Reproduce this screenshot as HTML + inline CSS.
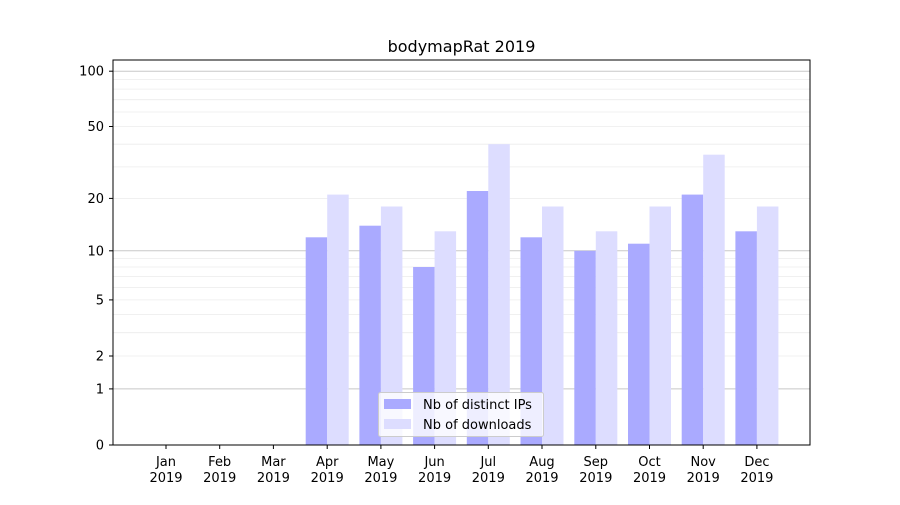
<!DOCTYPE html>
<html><head><meta charset="utf-8"><style>body{margin:0;background:#fff}</style></head><body>
<svg width="900" height="500" xmlns="http://www.w3.org/2000/svg" font-family="DejaVu Sans, Liberation Sans, sans-serif" font-size="13">
<rect width="900" height="500" fill="#fff"/>
<g stroke="#ececec" stroke-width="0.8">
<line x1="113" x2="810" y1="356" y2="356"/><line x1="113" x2="810" y1="332.7" y2="332.7"/><line x1="113" x2="810" y1="314.6" y2="314.6"/><line x1="113" x2="810" y1="299.9" y2="299.9"/><line x1="113" x2="810" y1="287.4" y2="287.4"/><line x1="113" x2="810" y1="276.6" y2="276.6"/><line x1="113" x2="810" y1="267" y2="267"/><line x1="113" x2="810" y1="258.5" y2="258.5"/>
<line x1="113" x2="810" y1="198.4" y2="198.4"/><line x1="113" x2="810" y1="166.9" y2="166.9"/><line x1="113" x2="810" y1="144.2" y2="144.2"/><line x1="113" x2="810" y1="126.5" y2="126.5"/><line x1="113" x2="810" y1="112" y2="112"/><line x1="113" x2="810" y1="99.7" y2="99.7"/><line x1="113" x2="810" y1="89.1" y2="89.1"/><line x1="113" x2="810" y1="79.6" y2="79.6"/>
</g>
<g stroke="#c8c8c8" stroke-width="1">
<line x1="113" x2="810" y1="388.9" y2="388.9"/><line x1="113" x2="810" y1="250.8" y2="250.8"/><line x1="113" x2="810" y1="71.2" y2="71.2"/>
</g>
<g fill="#aaaaff">
<rect x="305.7" y="237.3" width="21.5" height="207.7"/>
<rect x="359.4" y="225.7" width="21.5" height="219.3"/>
<rect x="413.1" y="267" width="21.5" height="178"/>
<rect x="466.8" y="191" width="21.5" height="254"/>
<rect x="520.5" y="237.3" width="21.5" height="207.7"/>
<rect x="574.3" y="250.8" width="21.5" height="194.2"/>
<rect x="628" y="243.7" width="21.5" height="201.3"/>
<rect x="681.7" y="194.6" width="21.5" height="250.4"/>
<rect x="735.4" y="231.3" width="21.5" height="213.7"/>
</g>
<g fill="#ddddff">
<rect x="327.2" y="194.6" width="21.5" height="250.4"/>
<rect x="380.9" y="206.5" width="21.5" height="238.5"/>
<rect x="434.6" y="231.3" width="21.5" height="213.7"/>
<rect x="488.3" y="144.2" width="21.5" height="300.8"/>
<rect x="542" y="206.5" width="21.5" height="238.5"/>
<rect x="595.8" y="231.3" width="21.5" height="213.7"/>
<rect x="649.5" y="206.5" width="21.5" height="238.5"/>
<rect x="703.2" y="154.7" width="21.5" height="290.3"/>
<rect x="756.9" y="206.5" width="21.5" height="238.5"/>
</g>
<rect x="113" y="60" width="697" height="385" fill="none" stroke="#000" stroke-width="1"/>
<g stroke="#000">
<line x1="166" x2="166" y1="445" y2="449"/><line x1="219.7" x2="219.7" y1="445" y2="449"/><line x1="273.4" x2="273.4" y1="445" y2="449"/><line x1="327.2" x2="327.2" y1="445" y2="449"/><line x1="380.9" x2="380.9" y1="445" y2="449"/><line x1="434.6" x2="434.6" y1="445" y2="449"/><line x1="488.3" x2="488.3" y1="445" y2="449"/><line x1="542" x2="542" y1="445" y2="449"/><line x1="595.8" x2="595.8" y1="445" y2="449"/><line x1="649.5" x2="649.5" y1="445" y2="449"/><line x1="703.2" x2="703.2" y1="445" y2="449"/><line x1="756.9" x2="756.9" y1="445" y2="449"/>
<line x1="109" x2="113" y1="445" y2="445"/><line x1="109" x2="113" y1="388.9" y2="388.9"/><line x1="109" x2="113" y1="356" y2="356"/><line x1="109" x2="113" y1="299.9" y2="299.9"/><line x1="109" x2="113" y1="250.8" y2="250.8"/><line x1="109" x2="113" y1="198.4" y2="198.4"/><line x1="109" x2="113" y1="126.5" y2="126.5"/><line x1="109" x2="113" y1="71.2" y2="71.2"/>
</g>
<g text-anchor="end">
<text x="104" y="449.5">0</text><text x="104" y="393.4">1</text><text x="104" y="360.5">2</text><text x="104" y="304.4">5</text><text x="104" y="255.3">10</text><text x="104" y="202.9">20</text><text x="104" y="131">50</text><text x="104" y="75.7">100</text>
</g>
<g text-anchor="middle">
<text x="166" y="466">Jan</text><text x="166" y="482">2019</text>
<text x="219.7" y="466">Feb</text><text x="219.7" y="482">2019</text>
<text x="273.4" y="466">Mar</text><text x="273.4" y="482">2019</text>
<text x="327.2" y="466">Apr</text><text x="327.2" y="482">2019</text>
<text x="380.9" y="466">May</text><text x="380.9" y="482">2019</text>
<text x="434.6" y="466">Jun</text><text x="434.6" y="482">2019</text>
<text x="488.3" y="466">Jul</text><text x="488.3" y="482">2019</text>
<text x="542" y="466">Aug</text><text x="542" y="482">2019</text>
<text x="595.8" y="466">Sep</text><text x="595.8" y="482">2019</text>
<text x="649.5" y="466">Oct</text><text x="649.5" y="482">2019</text>
<text x="703.2" y="466">Nov</text><text x="703.2" y="482">2019</text>
<text x="756.9" y="466">Dec</text><text x="756.9" y="482">2019</text>
</g>
<text x="461.5" y="52" text-anchor="middle" font-size="16">bodymapRat 2019</text>
<rect x="378.5" y="392.5" width="165" height="44" rx="2" fill="#fff" fill-opacity="0.8" stroke="#ccc"/>
<rect x="384" y="399" width="27" height="10" fill="#aaaaff"/>
<rect x="384" y="419" width="27" height="10" fill="#ddddff"/>
<text x="423" y="409">Nb of distinct IPs</text>
<text x="423" y="429">Nb of downloads</text>
</svg>
</body></html>
